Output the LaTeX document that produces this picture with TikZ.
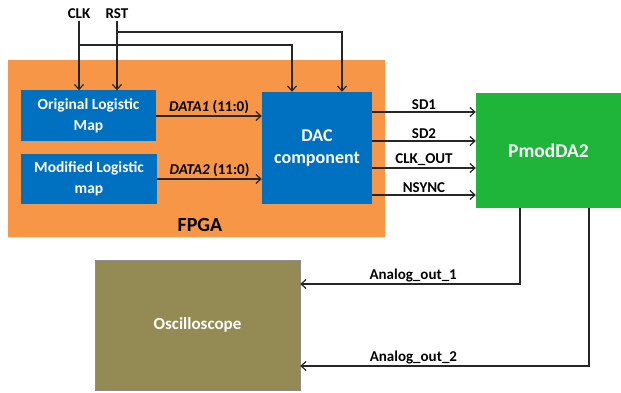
\documentclass[tikz,border=0pt]{standalone}
\usepackage{fontspec}
\setmainfont{Carlito}
\usetikzlibrary{arrows.meta}
\definecolor{orangefpga}{HTML}{F79646}
\definecolor{bleubloc}{HTML}{0070C0}
\definecolor{vertpmod}{HTML}{1FB53A}
\definecolor{olivescope}{HTML}{948A54}
\begin{document}
\begin{tikzpicture}[x=1pt,y=-1pt]
			\tikzstyle{fleche}=[->,>={Straight Barb[length=5pt,width=9pt]},line width=1.2pt,draw=black!85]
			\tikzstyle{bloc}=[draw=none,fill=bleubloc,text=white,align=center,inner sep=0pt,font=\fontsize{15.5}{20.5}\selectfont\bfseries]
			\tikzstyle{etiquette}=[font=\fontsize{15}{18}\selectfont\bfseries,inner sep=1.5pt]
			\useasboundingbox (0,0) rectangle (621,393);
			\node[fill=orangefpga,minimum width=377pt,minimum height=177pt] (FPGA) at (196.5,148.5) {};
			\node[font=\fontsize{20}{24}\selectfont\bfseries] (lblFPGA) at (200,225) {FPGA};
			\node[bloc,minimum width=135pt,minimum height=51pt] (Orig) at (88.5,116) {Original Logistic\\Map};
			\node[bloc,minimum width=136pt,minimum height=50pt] (Mod) at (89,179) {Modified Logistic\\map};
			\node[bloc,minimum width=110pt,minimum height=112pt,font=\fontsize{18}{22.5}\selectfont\bfseries] (DAC) at (317,148) {DAC\\component};
			\node[bloc,fill=vertpmod,minimum width=145pt,minimum height=115pt,font=\fontsize{19.5}{23}\selectfont\bfseries] (Pmod) at (548.5,150.5) {PmodDA2};
			\node[bloc,fill=olivescope,draw=black!45,minimum width=205pt,minimum height=130pt,font=\fontsize{17}{20}\selectfont\bfseries] (Osc) at (197.5,325) {Oscilloscope};
			\node[etiquette] (CLK) at (79,14) {CLK};
			\node[etiquette] (RST) at (117,14) {RST};
			% horloge et reset
			\draw[fleche] (CLK.south) -- (CLK.south |- Orig.north);
			\draw[fleche] (RST.south) -- (RST.south |- Orig.north);
			\draw[fleche] (CLK.south |- 0,45) -| ([xshift=-25pt]DAC.north);
			\draw[fleche] (RST.south |- 0,32) -| ([xshift=25pt]DAC.north);
			% donnees
			\draw[fleche] (Orig.east) -- (Orig.east -| DAC.west) node[etiquette,midway,above] {\textit{DATA1} (11:0)};
			\draw[fleche] (Mod.east) -- (Mod.east -| DAC.west) node[etiquette,midway,above] {\textit{DATA2} (11:0)};
			% vers PmodDA2
			\draw[fleche] ([yshift=36pt]DAC.east) -- ([yshift=36pt]DAC.east -| Pmod.west) node[etiquette,midway,above] {SD1};
			\draw[fleche] ([yshift=7pt]DAC.east) -- ([yshift=7pt]DAC.east -| Pmod.west) node[etiquette,midway,above] {SD2};
			\draw[fleche] ([yshift=-20pt]DAC.east) -- ([yshift=-20pt]DAC.east -| Pmod.west) node[etiquette,midway,above] {CLK\_OUT};
			\draw[fleche] ([yshift=-47pt]DAC.east) -- ([yshift=-47pt]DAC.east -| Pmod.west) node[etiquette,midway,above] {NSYNC};
			% sorties analogiques
			\draw[fleche] ([xshift=-28.5pt]Pmod.south) |- ([yshift=41pt]Osc.east) node[etiquette,pos=0.743,above] {Analog\_out\_1};
			\draw[fleche] ([xshift=40.5pt]Pmod.south) |- ([yshift=-41pt]Osc.east) node[etiquette,pos=0.804,above] {Analog\_out\_2};
\end{tikzpicture}
\end{document}
